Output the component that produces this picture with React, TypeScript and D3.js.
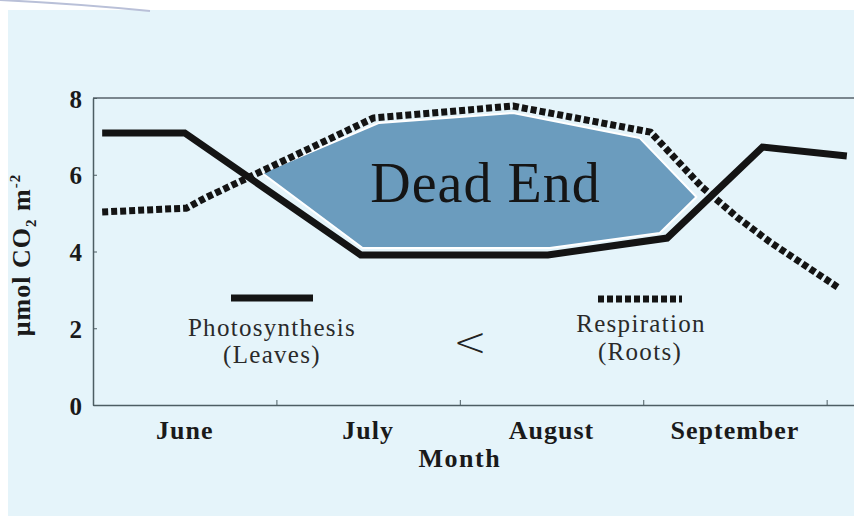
import React, { useRef, useEffect } from 'react';
import * as d3 from 'd3';

// months on the x axis (each month = 1 unit, June starts at 0)
const months = ['June', 'July', 'August', 'September'];
const monthBounds = [1, 2, 3, 4];
const yTicks = [0, 2, 4, 6, 8];

// Photosynthesis (Leaves) - solid line
const photoX = [0.05, 0.50, 1.46, 2.48, 3.13, 3.65, 4.11];
const photoY = [7.09, 7.09, 3.91, 3.91, 4.35, 6.72, 6.49];

// Respiration (Roots) - dotted line
const respX = [0.05, 0.51, 0.61, 1.53, 2.29, 3.04, 3.32, 3.51, 3.69, 4.06];
const respY = [5.03, 5.13, 5.39, 7.48, 7.79, 7.11, 5.68, 4.90, 4.25, 3.07];

// shaded "Dead End" region
const deadEndX = [0.92, 1.56, 2.29, 2.98, 3.29, 3.09, 2.49, 1.47];
const deadEndY = [6.05, 7.35, 7.61, 6.96, 5.42, 4.48, 4.09, 4.09];

const W = 854;
const H = 516;
const serif = '"Liberation Serif", "DejaVu Serif", serif';
const bg = '#e5f4fa';

function DeadEndChart() {
  const ref = useRef<SVGSVGElement>(null);

  useEffect(() => {
    const svg = d3.select(ref.current);
    svg.selectAll('*').remove();

    const x = d3.scaleLinear().domain([0, 4.16]).range([93, 856]);
    const y = d3.scaleLinear().domain([0, 8]).range([405, 98]);

    // page background
    svg.append('rect').attr('width', W).attr('height', H).attr('fill', '#ffffff');
    svg.append('rect')
      .attr('x', 8).attr('y', 10)
      .attr('width', W - 8).attr('height', H - 10)
      .attr('fill', bg);
    svg.append('path')
      .attr('d', 'M0,0 Q80,4 150,11')
      .attr('fill', 'none')
      .attr('stroke', '#b9c0d8')
      .attr('stroke-width', 2);

    // dead end area
    const pts = deadEndX.map((d, i) => [x(d), y(deadEndY[i])] as [number, number]);
    svg.append('path')
      .attr('d', d3.line()(pts) + 'Z')
      .attr('fill', '#6b9cbe')
      .attr('stroke', '#ffffff')
      .attr('stroke-width', 2)
      .attr('stroke-linejoin', 'round');

    svg.append('text')
      .attr('x', x(2.14))
      .attr('y', y(5.3))
      .attr('text-anchor', 'middle')
      .attr('font-family', serif)
      .attr('font-size', 56)
      .attr('letter-spacing', 1)
      .attr('fill', '#151515')
      .text('Dead End');

    // top border
    svg.append('line')
      .attr('x1', x(0)).attr('x2', x(4.16))
      .attr('y1', y(8)).attr('y2', y(8))
      .attr('stroke', '#7a868e')
      .attr('stroke-width', 2);

    // y axis
    const yAxis = svg.append('g')
      .attr('transform', `translate(${x(0)},0)`)
      .call(d3.axisLeft(y).tickValues(yTicks).tickSize(-4).tickSizeOuter(0).tickPadding(11));
    yAxis.select('.domain').attr('stroke', '#4d5d63').attr('stroke-width', 1.5);
    yAxis.selectAll('.tick line').attr('stroke', '#4d5d63');
    yAxis.selectAll('.tick text')
      .attr('font-family', serif)
      .attr('font-weight', 'bold')
      .attr('font-size', 25)
      .attr('fill', '#1a1a1a')
      .attr('dy', '0.36em');

    // x axis (month boundary ticks)
    const xAxis = svg.append('g')
      .attr('transform', `translate(0,${y(0)})`)
      .call(d3.axisBottom(x).tickValues(monthBounds).tickSize(-5).tickSizeOuter(0).tickFormat(() => ''));
    xAxis.select('.domain').attr('stroke', '#4d5d63').attr('stroke-width', 1.5);
    xAxis.selectAll('.tick line').attr('stroke', '#4d5d63');

    // month labels
    svg.append('g')
      .selectAll('text')
      .data(months)
      .enter().append('text')
      .attr('x', (d, i) => x(i + 0.5))
      .attr('y', y(0) + 34)
      .attr('text-anchor', 'middle')
      .attr('font-family', serif)
      .attr('font-weight', 'bold')
      .attr('font-size', 26)
      .attr('letter-spacing', 1)
      .attr('fill', '#1a1a1a')
      .text(d => d);

    svg.append('text')
      .attr('x', x(2))
      .attr('y', y(0) + 62)
      .attr('text-anchor', 'middle')
      .attr('font-family', serif)
      .attr('font-weight', 'bold')
      .attr('font-size', 26)
      .attr('letter-spacing', 1.5)
      .attr('fill', '#1a1a1a')
      .text('Month');

    // y title
    const yt = svg.append('text')
      .attr('transform', 'translate(30,255) rotate(-90)')
      .attr('text-anchor', 'middle')
      .attr('font-family', serif)
      .attr('font-weight', 'bold')
      .attr('font-size', 26)
      .attr('letter-spacing', 1)
      .attr('fill', '#1a1a1a');
    yt.append('tspan').text('μmol CO');
    yt.append('tspan').attr('font-size', 15).attr('dy', 6).text('2');
    yt.append('tspan').attr('dy', -6).text(' m');
    yt.append('tspan').attr('font-size', 15).attr('dy', -10).text('-2');

    // lines
    svg.append('path')
      .attr('d', d3.line<number>().x(d => x(d)).y((d, i) => y(respY[i]))(respX))
      .attr('fill', 'none')
      .attr('stroke', '#141414')
      .attr('stroke-width', 7)
      .attr('stroke-dasharray', '6 3')
      .attr('stroke-linejoin', 'round');

    svg.append('path')
      .attr('d', d3.line<number>().x(d => x(d)).y((d, i) => y(photoY[i]))(photoX))
      .attr('fill', 'none')
      .attr('stroke', '#141414')
      .attr('stroke-width', 7)
      .attr('stroke-linejoin', 'miter');

    // legend
    const lg = svg.append('g')
      .attr('font-family', serif)
      .attr('fill', '#2a2a2a')
      .attr('font-size', 25)
      .attr('letter-spacing', 1.3);
    lg.append('line')
      .attr('x1', 231).attr('x2', 313).attr('y1', 298).attr('y2', 298)
      .attr('stroke', '#141414').attr('stroke-width', 7);
    lg.append('text').attr('x', 272).attr('y', 336).attr('text-anchor', 'middle').text('Photosynthesis');
    lg.append('text').attr('x', 272).attr('y', 363).attr('text-anchor', 'middle').text('(Leaves)');

    lg.append('line')
      .attr('x1', 598).attr('x2', 682).attr('y1', 299).attr('y2', 299)
      .attr('stroke', '#141414').attr('stroke-width', 7).attr('stroke-dasharray', '6 3');
    lg.append('text').attr('x', 641).attr('y', 332).attr('text-anchor', 'middle').text('Respiration');
    lg.append('text').attr('x', 640).attr('y', 360).attr('text-anchor', 'middle').text('(Roots)');

    svg.append('text')
      .attr('x', 470).attr('y', 356)
      .attr('text-anchor', 'middle')
      .attr('font-family', '"DejaVu Sans", sans-serif')
      .attr('font-weight', 200)
      .attr('font-size', 40)
      .attr('fill', '#222')
      .text('<');
  }, []);

  return (
    <svg ref={ref} width={W} height={H}
      style={{ position: 'absolute', left: 0, top: 0, display: 'block' }} />
  );
}

export default function App() {
  return <DeadEndChart />;
}
